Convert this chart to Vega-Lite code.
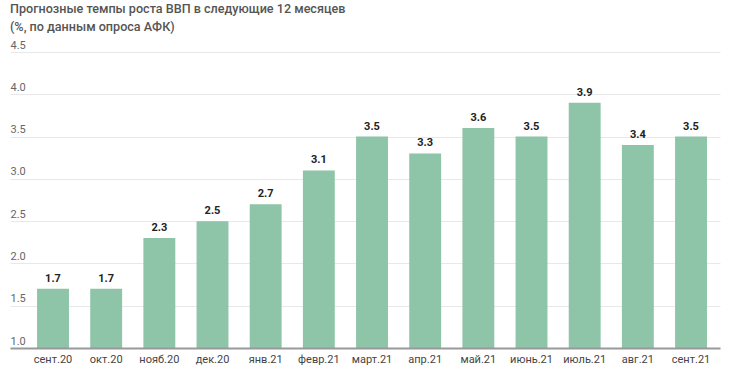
{
  "$schema": "https://vega.github.io/schema/vega-lite/v6.json",
  "width": 710,
  "height": 296,
  "autosize": {"type": "none"},
  "padding": {"left": 10, "top": 52, "right": 10, "bottom": 25},
  "background": "white",
  "title": {
    "text": ["Прогнозные темпы роста ВВП в следующие 12 месяцев", "(%, по данным опроса АФК)"],
    "anchor": "start",
    "frame": "group",
    "font": "Roboto",
    "fontSize": 12.6,
    "fontWeight": 500,
    "color": "#555555",
    "lineHeight": 18.5,
    "offset": 5
  },
  "config": {
    "view": {"stroke": null},
    "font": "Roboto"
  },
  "data": {
    "values": [
      {"month": "сент.20", "value": 1.7},
      {"month": "окт.20", "value": 1.7},
      {"month": "нояб.20", "value": 2.3},
      {"month": "дек.20", "value": 2.5},
      {"month": "янв.21", "value": 2.7},
      {"month": "февр.21", "value": 3.1},
      {"month": "март.21", "value": 3.5},
      {"month": "апр.21", "value": 3.3},
      {"month": "май.21", "value": 3.6},
      {"month": "июнь.21", "value": 3.5},
      {"month": "июль.21", "value": 3.9},
      {"month": "авг.21", "value": 3.4},
      {"month": "сент.21", "value": 3.5}
    ]
  },
  "encoding": {
    "x": {
      "field": "month",
      "type": "nominal",
      "sort": null,
      "scale": {"paddingInner": 0.4, "paddingOuter": 0.377, "align": 0.675},
      "axis": {
        "title": null,
        "labelAngle": 0,
        "labelFont": "Roboto",
        "labelFontSize": 11,
        "labelColor": "#444444",
        "labelPadding": 5,
        "ticks": false,
        "domainColor": "#999999",
        "domainWidth": 2,
        "zindex": 1
      }
    },
    "y": {
      "field": "value",
      "type": "quantitative",
      "scale": {"domain": [1, 4.5], "zero": false, "nice": false},
      "axis": {
        "title": null,
        "values": [1, 1.5, 2, 2.5, 3, 3.5, 4, 4.5],
        "format": ".1f",
        "domain": false,
        "ticks": false,
        "tickSize": 0,
        "labelPadding": 0,
        "labelAlign": "left",
        "labelBaseline": "alphabetic",
        "labelOffset": -4,
        "labelFont": "Roboto",
        "labelFontSize": 11,
        "labelColor": "#666666",
        "gridColor": "#e8e8e8",
        "gridWidth": 1
      }
    }
  },
  "layer": [
    {
      "mark": {"type": "bar", "color": "#8ec4a8"},
      "encoding": {"y2": {"datum": 1}}
    },
    {
      "mark": {"type": "text", "baseline": "bottom", "dy": -5, "font": "Roboto", "fontSize": 11, "fontWeight": "bold", "color": "#222222"},
      "encoding": {"text": {"field": "value", "type": "quantitative", "format": ".1f"}}
    }
  ]
}
